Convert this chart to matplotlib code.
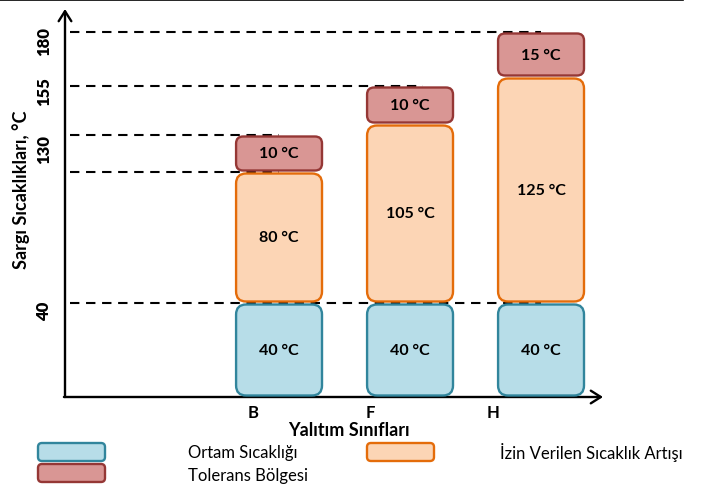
import numpy as np
import matplotlib
matplotlib.use("Agg")
from matplotlib import pyplot as plt
from matplotlib.patches import FancyBboxPatch
from matplotlib.lines import Line2D
from matplotlib.transforms import Bbox, TransformedBbox

plt.rcParams["font.family"] = ["Lato", "DejaVu Sans"]

# chart data
CLASSES = ["B", "F", "H"]
AMBIENT = [40, 40, 40]
RISE = [80, 105, 125]
TOLERANCE = [10, 10, 15]
Y_TICKS = [40, 130, 155, 180]
GUIDE_LEVELS = [40, 120, 130, 155, 180]
GUIDE_END = [2, 0, 0, 1.1, 2]          # class index where each guide stops

# the drawing is schematic: piecewise-linear temperature axis
SCALE_T = [0, 40, 120, 130, 145, 155, 165, 180, 190]
SCALE_P = [0, 94, 225, 262, 273, 311, 320, 365, 388]

SERIES = [
    ("Ortam Sıcaklığı", AMBIENT, "#b7dde8", "#31859c"),
    ("İzin Verilen Sıcaklık Artışı", RISE, "#fcd5b5", "#e46c0a"),
    ("Tolerans Bölgesi", TOLERANCE, "#d99694", "#953735"),
]

W, H = 705, 489
fig = plt.figure(figsize=(W / 100, H / 100), dpi=100)
ax = fig.add_axes([65 / W, (H - 398) / H, 538 / W, 388 / H])


def fwd(t):
    return np.interp(t, SCALE_T, SCALE_P)


def inv(p):
    return np.interp(p, SCALE_P, SCALE_T)


ax.set_yscale("function", functions=(fwd, inv))
ax.set_ylim(0, 190)
ax.set_xlim(-1.634, 2.473)
for s in ax.spines.values():
    s.set_visible(False)

# axis arrows
arrow = dict(arrowstyle="->,head_length=0.6,head_width=0.38", lw=1.7,
             color="black", shrinkA=0, shrinkB=0, mutation_scale=12)
ax.annotate("", xy=(0, 1), xytext=(0, 0), xycoords="axes fraction",
            arrowprops=arrow, annotation_clip=False)
ax.annotate("", xy=(1, 0), xytext=(-0.002, 0), xycoords="axes fraction",
            arrowprops=arrow, annotation_clip=False)

# y tick labels (rotated, bold, sitting just under each level)
ax.set_yticks([])
y_drop = [7, 13, 5, 9]
for v, d in zip(Y_TICKS, y_drop):
    ax.annotate(str(v), xy=(0, v), xycoords=("axes fraction", "data"),
                xytext=(-21, -d), textcoords="offset pixels",
                rotation=90, ha="center", va="center",
                fontsize=12, fontweight="heavy", annotation_clip=False)

x_shift = [0.2, 0.3, 0.37]
ax.set_xticks([i - s for i, s in enumerate(x_shift)], labels=CLASSES,
              fontweight="bold", fontsize=12)
ax.tick_params(axis="x", length=0, pad=5)

# dashed guides
for lvl, end in zip(GUIDE_LEVELS, GUIDE_END):
    ax.plot([-1.596, end], [lvl, lvl], color="black", lw=1.5,
            dashes=(4.5, 3.2), zorder=5, clip_on=False)

# stacked rounded boxes
BW = 0.656
to_fig = fig.transFigure.inverted()
for i in range(len(CLASSES)):
    base = 0
    for name, vals, fc, ec in SERIES:
        v = vals[i]
        xa, ya = ax.transData.transform((i - BW / 2, base))
        xb, yb = ax.transData.transform((i + BW / 2, base + v))
        ya += 1.5
        yb -= 1.5
        (fx0, fy0), (fx1, fy1) = to_fig.transform([(xa, ya), (xb, yb)])
        r = 10 if v > 20 else 7
        fig.add_artist(FancyBboxPatch(
            (fx0, fy0), fx1 - fx0, fy1 - fy0,
            boxstyle="round,pad=0,rounding_size=%f" % (r / W),
            mutation_aspect=W / H, transform=fig.transFigure,
            facecolor=fc, edgecolor=ec, lw=1.7, zorder=2))
        fig.text((fx0 + fx1) / 2, (fy0 + fy1) / 2, "%d °C" % v,
                 ha="center", va="center", fontsize=11.5, fontweight="bold",
                 zorder=3)
        base += v

# axis titles
fig.text(349 / W, 1 - 431 / H, "Yalıtım Sınıfları", ha="center",
         va="center", fontsize=13, fontweight="bold")
fig.text(21 / W, 1 - 190 / H, "Sargı Sıcaklıkları, °C", ha="center",
         va="center", rotation=90, fontsize=13, fontweight="bold")

# legend
legend_pos = [((38, 444), (188, 453)), ((367, 444), (500, 453)),
              ((38, 465), (188, 476))]
clip = TransformedBbox(Bbox.from_extents(0, 0, 683 / W, 1), fig.transFigure)
for (name, vals, fc, ec), ((sx, sy), (tx, ty)) in zip(SERIES, legend_pos):
    fig.add_artist(FancyBboxPatch(
        (sx / W, 1 - (sy + 18) / H), 67 / W, 18 / H,
        boxstyle="round,pad=0,rounding_size=%f" % (4 / W),
        mutation_aspect=W / H, transform=fig.transFigure,
        facecolor=fc, edgecolor=ec, lw=1.7))
    t = fig.text(tx / W, 1 - ty / H, name, ha="left", va="center",
                 fontsize=12)
    t.set_clip_box(clip)
    t.set_clip_on(True)

# top rule
fig.add_artist(Line2D([0, 683 / W], [1 - 1 / H, 1 - 1 / H],
                      transform=fig.transFigure, color="black", lw=1.2))

fig.savefig("out.png", dpi=100)
